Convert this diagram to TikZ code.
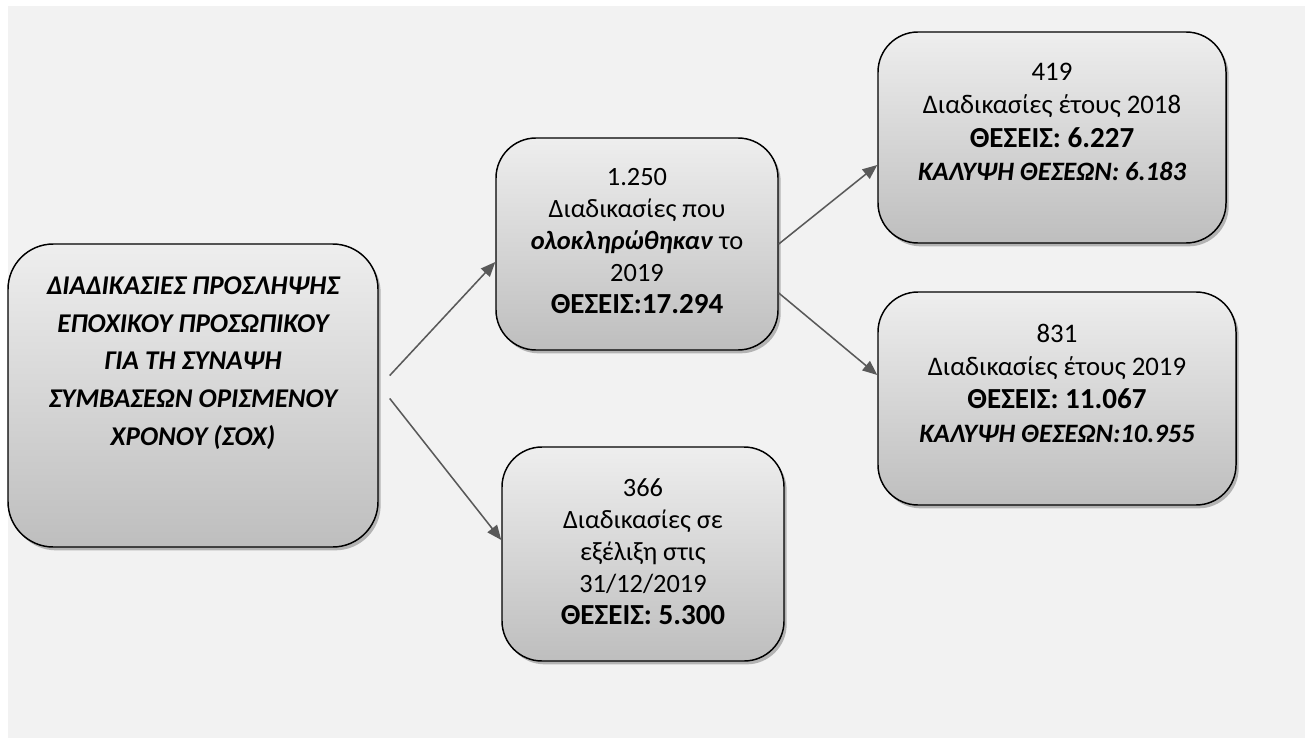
\documentclass[tikz,border=0pt]{standalone}
\usepackage{fontspec}
\setmainfont{Carlito}
\usetikzlibrary{arrows.meta,shadows,calc}
\definecolor{bgc}{RGB}{242,242,242}
\definecolor{boxtop}{RGB}{238,238,238}
\definecolor{boxbot}{RGB}{190,190,190}
\definecolor{arrowc}{RGB}{89,89,89}
\tikzset{
  box/.style={rectangle, rounded corners=30pt, draw=black, line width=1.1pt,
    top color=boxtop, bottom color=boxbot,
    drop shadow={shadow xshift=2pt, shadow yshift=-2.5pt, fill=black!50, opacity=0.55}},
  txt/.style={align=center, text=black, inner sep=0pt,
    font=\fontsize{19.8}{24}\selectfont},
  txtr/.style={align=center, text=black, inner sep=0pt,
    font=\fontsize{20.1}{25}\selectfont},
  txtl/.style={align=center, text=black, inner sep=0pt,
    font=\fontsize{20.3}{28.2}\selectfont\bfseries\itshape},
  arr/.style={draw=arrowc, line width=1.15pt, -{Triangle[length=11pt,width=9pt]}, fill=arrowc}
}
\newcommand{\bigb}[1]{{\fontsize{21.8}{24}\selectfont\bfseries #1}}
\newcommand{\bi}[1]{{\fontsize{19.9}{24}\selectfont\bfseries\itshape #1}}
\begin{document}
\begin{tikzpicture}[x=0.75pt,y=-0.75pt]
\path[use as bounding box] (0,0) rectangle (1308,738);
\fill[bgc] (8,6) rectangle (1305,738);

\node[box, rounded corners=34pt, minimum width=277.5pt, minimum height=227.25pt] (L) at (193,395.5) {};
\node[box, minimum width=211.5pt, minimum height=159pt] (M1) at (637,244) {};
\node[box, minimum width=211.5pt, minimum height=160.5pt] (M2) at (643,554) {};
\node[box, minimum width=261pt, minimum height=158.25pt] (R1) at (1052,137.5) {};
\node[box, minimum width=268.5pt, minimum height=159.75pt] (R2) at (1057,398.5) {};

\node[txtl] (Lt) at (193,363) {ΔΙΑΔΙΚΑΣΙΕΣ ΠΡΟΣΛΗΨΗΣ\\ΕΠΟΧΙΚΟΥ ΠΡΟΣΩΠΙΚΟΥ\\ΓΙΑ ΤΗ ΣΥΝΑΨΗ\\ΣΥΜΒΑΣΕΩΝ ΟΡΙΣΜΕΝΟΥ\\ΧΡΟΝΟΥ (ΣΟΧ)};
\node[txt] (M1t) at (637,241) {1.250\\Διαδικασίες που\\\textbf{\textit{ολοκληρώθηκαν}} το\\2019\\\bigb{ΘΕΣΕΙΣ:17.294}};
\node[txt] (M2t) at (643,552) {366\\Διαδικασίες σε\\εξέλιξη στις\\31/12/2019\\\bigb{ΘΕΣΕΙΣ: 5.300}};
\node[txtr] (R1t) at (1052,122) {419\\Διαδικασίες έτους 2018\\\bigb{ΘΕΣΕΙΣ: 6.227}\\\bi{ΚΑΛΥΨΗ ΘΕΣΕΩΝ: 6.183}};
\node[txtr] (R2t) at (1057,383) {831\\Διαδικασίες έτους 2019\\\bigb{ΘΕΣΕΙΣ: 11.067}\\\bi{ΚΑΛΥΨΗ ΘΕΣΕΩΝ:10.955}};

\draw[arr] ($(L.east)+(11,-20)$) -- ($(M1.west)+(0,18)$);
\draw[arr] ($(L.east)+(11,3)$) -- ($(M2.west)+(0,-14)$);
\draw[arr] (M1.east) -- ($(R1.west)+(0,27.5)$);
\draw[arr] ($(M1.east)+(0,49)$) -- ($(R2.west)+(0,-23.5)$);
\end{tikzpicture}
\end{document}
